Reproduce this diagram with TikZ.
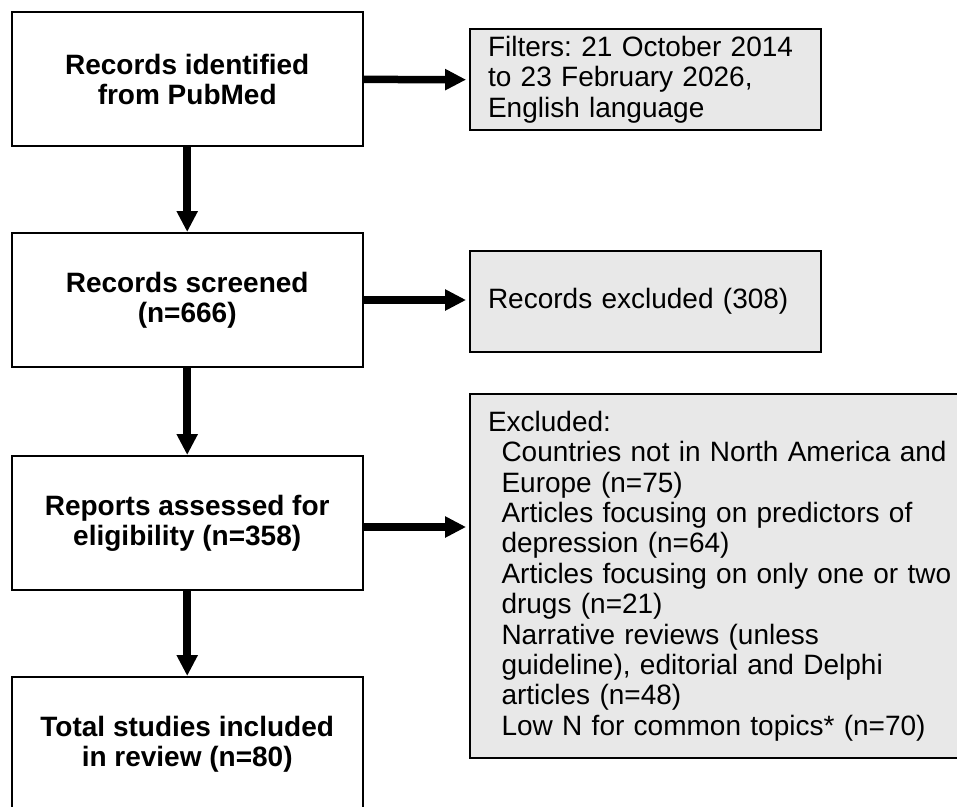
\documentclass[tikz,border=0pt]{standalone}
\usepackage{fontspec}
\setmainfont{Liberation Sans}
\usetikzlibrary{arrows.meta}
\definecolor{boxgray}{RGB}{232,232,232}
\newcommand{\ind}{\hspace*{13.5pt}}
\frenchspacing
\begin{document}
\begin{tikzpicture}[x=1pt,y=-1pt,
  mainbox/.style={draw=black, line width=2pt, minimum width=351pt, minimum height=134pt,
    inner sep=0pt, align=center, font=\fontsize{28}{30}\selectfont\bfseries},
  sidebox/.style={draw=black, line width=1.8pt, fill=boxgray, inner xsep=18pt, inner ysep=0pt,
    align=left, font=\fontsize{28}{30.4}\selectfont},
  flow/.style={line width=7.5pt, -{Triangle[length=21pt,width=20pt]}},
]
\useasboundingbox (0,0) rectangle (957,806);
\clip (0,0) rectangle (957,806);
% main column
\node[mainbox] (b1) at (187.2,79.4) {Records identified\\from PubMed};
\node[mainbox] (b2) at (187.2,300) {Records screened\\(n=666)};
\node[mainbox] (b3) at (187.2,523) {Reports assessed for\\eligibility (n=358)};
\node[mainbox] (b4) at (187.2,744) {Total studies included\\in review (n=80)};
% side boxes
\node[sidebox, text width=315pt, minimum height=100.7pt] (sa) at (645.5,79.7)
  {Filters: 21 October 2014\\to 23 February 2026,\\English language};
\node[sidebox, text width=315pt, minimum height=100.7pt] (sb) at (645.5,301.4)
  {Records excluded (308)};
\node[sidebox, text width=494pt, minimum height=364pt] (sc) at (735,576)
  {Excluded:\\
   \ind Countries not in North America and\\
   \ind Europe (n=75)\\
   \ind Articles focusing on predictors of\\
   \ind depression (n=64)\\
   \ind Articles focusing on only one or two\\
   \ind drugs (n=21)\\
   \ind Narrative reviews (unless\\
   \ind guideline), editorial and Delphi\\
   \ind articles (n=48)\\
   \ind Low N for common topics* (n=70)};
% connectors
\draw[flow] (b1.south) -- (b2.north);
\draw[flow] (b2.south) -- (b3.north);
\draw[flow] (b3.south) -- (b4.north);
\draw[flow, shorten >=3pt] (b1.east) -- (sa.west);
\draw[flow, shorten >=3pt] (b2.east) -- (b2.east -| sb.west);
\draw[flow, shorten >=3pt] ([yshift=-4pt]b3.east) -- ([yshift=-4pt]b3.east -| sc.west);
\end{tikzpicture}
\end{document}
